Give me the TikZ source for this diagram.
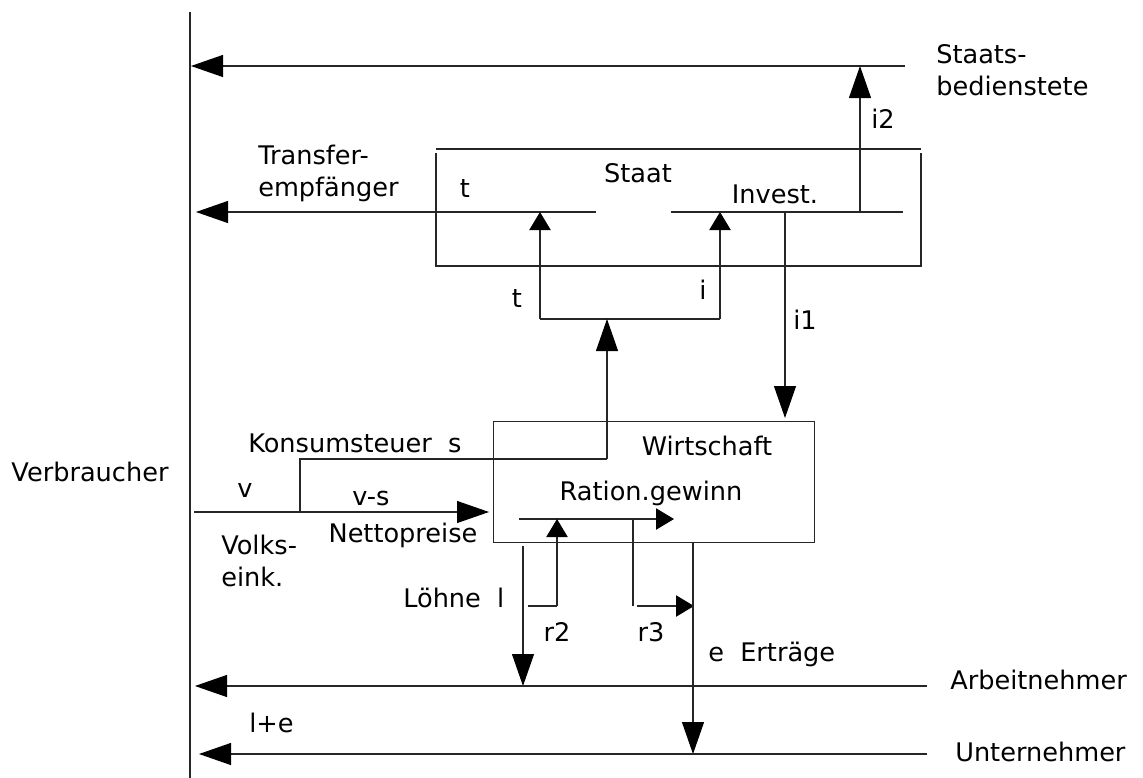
\documentclass[tikz,border=0pt]{standalone}
\usepackage{fontspec}
\setmainfont{DejaVu Sans}
\usetikzlibrary{arrows.meta}
\begin{document}
\begin{tikzpicture}[x=0.75pt,y=-0.75pt,
  ln/.style={line width=0.8pt,draw=black!85},
  big/.style={ln,-{Triangle[length=24pt,width=16.5pt,color=black]}},
  small/.style={ln,-{Triangle[length=13.5pt,width=16pt,color=black]}},
  lbl/.style={inner sep=0pt,font=\fontsize{19.2}{24}\selectfont},
  lblw/.style={lbl,anchor=west,align=left}]
\useasboundingbox (0,0) rectangle (1143,778);
% coordinates
\coordinate (axT) at (190,12);
\coordinate (axB) at (190,778);
\coordinate (topR) at (905,66);
\coordinate (topL) at (191,66);
\coordinate (sTL) at (436,149);
\coordinate (sTR) at (921,149);
\coordinate (sL1) at (436,153);
\coordinate (sBL) at (436,266);
\coordinate (sBR) at (921,266);
\coordinate (sR1) at (921,153);
\coordinate (trR) at (596,212);
\coordinate (trL) at (196,212);
\coordinate (inL) at (671,212);
\coordinate (inR) at (903,212);
\coordinate (tB) at (540,319);
\coordinate (tT) at (540,212);
\coordinate (iB) at (720,319);
\coordinate (iT) at (720,212);
\coordinate (mB) at (607,459);
\coordinate (mT) at (607,319);
\coordinate (i1T) at (785,212);
\coordinate (i1B) at (785,418);
\coordinate (i2B) at (860,212);
\coordinate (i2T) at (860,66);
\coordinate (kA) at (300,512);
\coordinate (kB) at (300,459);
\coordinate (vL) at (194,512);
\coordinate (vR) at (489,512);
\coordinate (rgL) at (519,519);
\coordinate (rgR) at (674,519);
\coordinate (r2a) at (528,606);
\coordinate (r2b) at (557,606);
\coordinate (r2T) at (557,519);
\coordinate (r3T) at (633,519);
\coordinate (r3B) at (633,606);
\coordinate (r3a) at (637,606);
\coordinate (r3b) at (694,606);
\coordinate (lT) at (523,546);
\coordinate (lB) at (523,686);
\coordinate (eT) at (693,542);
\coordinate (eB) at (693,754);
\coordinate (anR) at (927,686);
\coordinate (anL) at (195,686);
\coordinate (unR) at (927,754);
\coordinate (unL) at (199,754);
% Wirtschaft box
\node[ln,draw,anchor=north west,minimum width=240.75pt,minimum height=90.75pt,inner sep=0pt] (wirt) at (493,421) {};
% lines
\draw[ln] (axT) -- (axB);
\draw[big] (topR) -- (topL);
\draw[ln] (sTL) -- (sTR);
\draw[ln] (sL1) -- (sBL) -- (sBR) -- (sR1);
\draw[big] (trR) -- (trL);
\draw[ln] (inL) -- (inR);
\draw[ln] (tB) -- (iB);
\draw[small] (tB) -- (tT);
\draw[small] (iB) -- (iT);
\draw[ln] (kA) -- (kB) -- (mB);
\draw[big] (mB) -- (mT);
\draw[big] (i1T) -- (i1B);
\draw[big] (i2B) -- (i2T);
\draw[big] (vL) -- (vR);
\draw[small] (rgL) -- (rgR);
\draw[ln] (r2a) -- (r2b);
\draw[small] (r2b) -- (r2T);
\draw[ln] (r3T) -- (r3B);
\draw[small] (r3a) -- (r3b);
\draw[big] (lT) -- (lB);
\draw[big] (eT) -- (eB);
\draw[big] (anR) -- (anL);
\draw[big] (unR) -- (unL);
% labels
\node[lbl] (verb) at (90,472) {Verbraucher};
\node[lblw] (stb) at (936,70) {Staats-\\bedienstete};
\node[lbl] (li2) at (883,119) {i2};
\node[lblw] (tre) at (258,173) {Transfer-\\empfänger};
\node[lbl] (lt1) at (465,189) {t};
\node[lbl] (staat) at (638,173) {Staat};
\node[lbl] (inv) at (775,194) {Invest.};
\node[lbl] (lt2) at (517,299) {t};
\node[lbl] (li) at (703,290) {i};
\node[lbl] (li1) at (805,320) {i1};
\node[lbl] (wlab) at (707,446) {Wirtschaft};
\node[lblw] (kon) at (248,443) {Konsumsteuer\ \ s};
\node[lbl] (lv) at (245,490) {v};
\node[lbl] (lvs) at (371,499) {v-s};
\node[lbl] (rg) at (651,493) {Ration.gewinn};
\node[lbl] (np) at (403,535) {Nettopreise};
\node[lblw] (ve) at (221,561) {Volks-\\eink.};
\node[lblw] (loe) at (403,598) {Löhne\ \ l};
\node[lbl] (lr2) at (557,632) {r2};
\node[lbl] (lr3) at (651,632) {r3};
\node[lblw] (ert) at (708,654) {e\ \ Erträge};
\node[lblw] (le) at (249,723) {l+e};
\node[lblw] (an) at (950,680) {Arbeitnehmer};
\node[lblw] (un) at (955,752) {Unternehmer};
\end{tikzpicture}
\end{document}
